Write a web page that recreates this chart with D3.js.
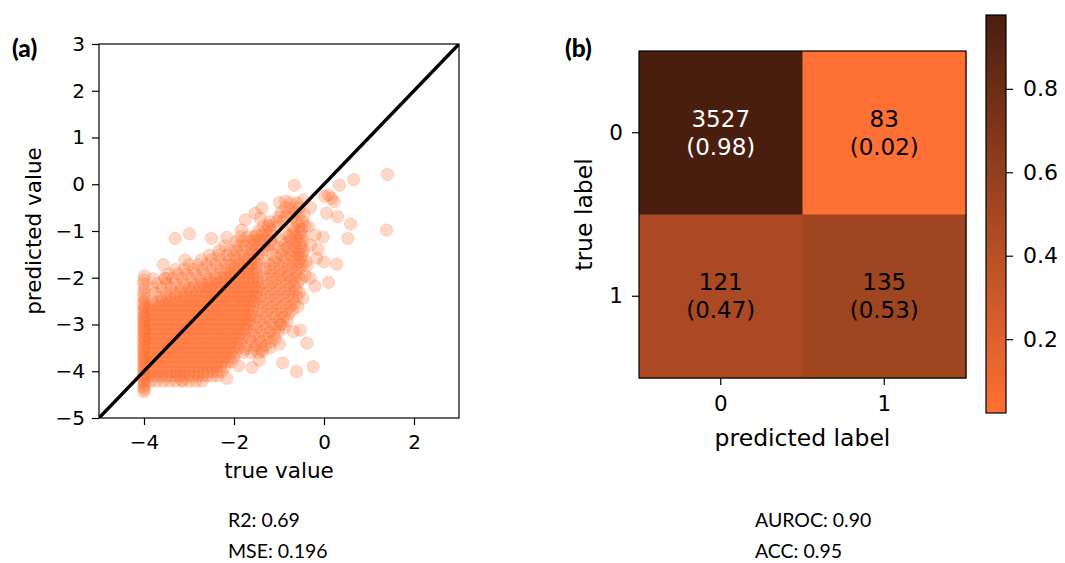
<!DOCTYPE html>
<html><head><meta charset="utf-8">
<script src="https://cdn.jsdelivr.net/npm/d3@7"></script>
<style>
body{margin:0;background:#fff}
svg{display:block}
</style>
</head><body>
<svg id="c" width="1065" height="563"></svg>
<script>
// ---------------- DATA ----------------
// (a) scatter: true value vs predicted value
const columnPts = [
 [-4.0,-4.44],[-3.99,-4.39],[-4.01,-4.35],[-4.0,-4.3],[-3.99,-4.26],[-4.01,-4.21],[-4.0,-4.17],[-3.99,-4.12],
 [-4.01,-4.08],[-4.0,-4.03],[-3.99,-3.99],[-4.01,-3.94],[-4.0,-3.9],[-3.99,-3.85],[-4.01,-3.81],[-4.0,-3.76],
 [-3.99,-3.72],[-4.01,-3.67],[-4.0,-3.63],[-3.99,-3.58],[-4.01,-3.54],[-4.0,-3.49],[-3.99,-3.45],[-4.01,-3.4],
 [-4.0,-3.36],[-3.99,-3.31],[-4.01,-3.27],[-4.0,-3.22],[-3.99,-3.18],[-4.01,-3.13],[-4.0,-3.09],[-3.99,-3.04],
 [-4.01,-3.0],[-4.0,-2.95],[-3.99,-2.91],[-4.01,-2.86],[-4.0,-2.82],[-3.99,-2.77],[-4.01,-2.72],[-4.0,-2.67],
 [-3.99,-2.62],[-4.01,-2.57],[-4.0,-2.51],[-3.99,-2.45],[-4.01,-2.38],[-4.0,-2.3],[-3.99,-2.22],[-4.01,-2.13],
 [-4.0,-2.05],[-3.99,-1.96]
];
const coreRows = [
 [-4.21,[-3.86,-3.72,-3.57,-3.43,-3.29,-3.14,-3.0,-2.85,-2.71]],
 [-4.1,[-3.9,-3.8,-3.7,-3.61,-3.5,-3.4,-3.3,-3.21,-3.1,-3.0,-2.9,-2.8,-2.7,-2.6,-2.48,-2.36]],
 [-4.01,[-3.88,-3.78,-3.68,-3.58,-3.48,-3.38,-3.28,-3.18,-3.08,-2.98,-2.88,-2.78,-2.68,-2.58,-2.48,-2.38,-2.28]],
 [-3.9,[-3.9,-3.8,-3.7,-3.6,-3.5,-3.4,-3.3,-3.2,-3.1,-3.0,-2.9,-2.8,-2.7,-2.6,-2.5,-2.4,-2.3,-2.2]],
 [-3.8,[-3.86,-3.76,-3.66,-3.56,-3.46,-3.36,-3.26,-3.16,-3.06,-2.96,-2.86,-2.76,-2.66,-2.56,-2.46,-2.36,-2.26,-2.16,-2.06]],
 [-3.7,[-3.9,-3.8,-3.7,-3.6,-3.5,-3.4,-3.3,-3.2,-3.1,-3.0,-2.9,-2.8,-2.7,-2.6,-2.5,-2.4,-2.3,-2.2,-2.1,-2.01]],
 [-3.6,[-3.86,-3.76,-3.66,-3.56,-3.46,-3.36,-3.26,-3.16,-3.06,-2.96,-2.86,-2.76,-2.66,-2.56,-2.46,-2.36,-2.26,-2.16,-2.06,-1.96]],
 [-3.5,[-3.9,-3.8,-3.7,-3.6,-3.5,-3.4,-3.3,-3.2,-3.1,-3.0,-2.9,-2.8,-2.7,-2.6,-2.5,-2.4,-2.3,-2.2,-2.1,-2.0,-1.9]],
 [-3.4,[-3.86,-3.76,-3.66,-3.56,-3.46,-3.36,-3.26,-3.16,-3.06,-2.96,-2.86,-2.76,-2.66,-2.56,-2.46,-2.36,-2.26,-2.16,-2.06,-1.96,-1.86]],
 [-3.3,[-3.9,-3.8,-3.7,-3.6,-3.5,-3.4,-3.3,-3.2,-3.1,-3.0,-2.9,-2.8,-2.7,-2.6,-2.5,-2.4,-2.3,-2.2,-2.1,-2.0,-1.9,-1.81]],
 [-3.2,[-3.86,-3.76,-3.66,-3.56,-3.46,-3.36,-3.26,-3.16,-3.06,-2.96,-2.86,-2.76,-2.66,-2.56,-2.46,-2.36,-2.26,-2.16,-2.06,-1.96,-1.86,-1.77]],
 [-3.1,[-3.9,-3.8,-3.7,-3.6,-3.5,-3.4,-3.3,-3.2,-3.1,-3.0,-2.9,-2.8,-2.7,-2.6,-2.5,-2.4,-2.3,-2.2,-2.1,-2.0,-1.9,-1.8,-1.73]],
 [-3.0,[-3.86,-3.76,-3.66,-3.56,-3.46,-3.36,-3.26,-3.16,-3.06,-2.96,-2.86,-2.76,-2.66,-2.56,-2.46,-2.36,-2.26,-2.16,-2.06,-1.96,-1.86,-1.76,-1.69]],
 [-2.9,[-3.9,-3.8,-3.7,-3.6,-3.5,-3.4,-3.3,-3.2,-3.1,-3.0,-2.9,-2.8,-2.7,-2.6,-2.5,-2.4,-2.3,-2.2,-2.1,-2.0,-1.9,-1.8,-1.72,-1.65]],
 [-2.8,[-3.86,-3.76,-3.66,-3.56,-3.46,-3.36,-3.26,-3.16,-3.06,-2.96,-2.86,-2.76,-2.66,-2.56,-2.46,-2.36,-2.26,-2.16,-2.06,-1.96,-1.86,-1.76,-1.66,-1.6]],
 [-2.7,[-3.9,-3.8,-3.7,-3.6,-3.5,-3.4,-3.3,-3.2,-3.1,-3.0,-2.9,-2.8,-2.7,-2.6,-2.5,-2.4,-2.3,-2.2,-2.1,-2.0,-1.9,-1.8,-1.7,-1.6]],
 [-2.6,[-3.86,-3.76,-3.66,-3.56,-3.46,-3.36,-3.26,-3.16,-3.06,-2.96,-2.86,-2.76,-2.66,-2.56,-2.46,-2.36,-2.26,-2.16,-2.06,-1.96,-1.86,-1.76,-1.66,-1.56]],
 [-2.5,[-3.82,-3.7,-3.6,-3.5,-3.4,-3.3,-3.2,-3.1,-3.0,-2.9,-2.8,-2.7,-2.6,-2.5,-2.4,-2.3,-2.2,-2.1,-2.0,-1.9,-1.8,-1.7,-1.62,-1.55]],
 [-2.4,[-3.62,-3.45,-3.3,-3.18,-3.06,-2.96,-2.86,-2.76,-2.66,-2.56,-2.46,-2.36,-2.26,-2.16,-2.06,-1.96,-1.86,-1.76,-1.66,-1.58,-1.5]],
 [-2.3,[-3.2,-3.06,-2.94,-2.82,-2.7,-2.6,-2.5,-2.4,-2.3,-2.2,-2.1,-2.0,-1.9,-1.8,-1.7,-1.6,-1.5]],
 [-2.2,[-2.9,-2.76,-2.64,-2.54,-2.44,-2.34,-2.24,-2.14,-2.04,-1.94,-1.84,-1.74,-1.64,-1.54,-1.45]],
 [-2.1,[-2.6,-2.48,-2.38,-2.28,-2.18,-2.08,-1.98,-1.88,-1.78,-1.68,-1.58,-1.48]],
 [-2.0,[-2.4,-2.28,-2.18,-2.08,-1.98,-1.88,-1.78,-1.68,-1.58,-1.48]],
 [-1.9,[-2.2,-2.08,-1.98,-1.88,-1.78,-1.68,-1.58,-1.5]],
 [-1.8,[-2.0,-1.9,-1.8,-1.7,-1.6,-1.5]],
 [-1.7,[-1.9,-1.8,-1.7,-1.6,-1.5]],
 [-1.6,[-1.76,-1.66,-1.56,-1.46]],
 [-1.5,[-1.66,-1.56,-1.46]]
];
const upperRows = [
 [-2.32,[-3.75,-3.5,-3.32]],
 [-2.22,[-3.8,-3.6,-3.4,-3.18,-3.0]],
 [-2.12,[-3.7,-3.5,-3.3,-3.1,-2.88,-2.7]],
 [-2.02,[-3.8,-3.53,-3.35,-3.15,-2.95,-2.75,-2.55]],
 [-1.92,[-3.45,-3.25,-3.05,-2.85,-2.65,-2.42]],
 [-1.82,[-3.3,-3.1,-2.9,-2.7,-2.5,-2.3,-2.15]],
 [-1.72,[-3.57,-3.0,-2.8,-2.6,-2.4,-2.2,-2.05]],
 [-1.62,[-3.09,-2.72,-2.5,-2.3,-2.1,-1.95]],
 [-1.52,[-2.55,-2.35,-2.15,-2.0,-1.85]],
 [-1.42,[-2.33,-2.09,-1.95,-1.8]],
 [-1.32,[-2.2,-1.9,-1.75]],
 [-1.22,[-1.95,-1.8,-1.65]],
 [-1.12,[-1.85,-1.7,-1.55]]
];
const bandRows = [
 [-1.4,[-1.62,-1.5,-1.38,-1.26]],
 [-1.3,[-1.6,-1.48,-1.36,-1.24,-1.12]],
 [-1.2,[-1.55,-1.43,-1.31,-1.19]],
 [-1.1,[-1.5,-1.38,-1.26,-1.14]],
 [-1.0,[-1.45,-1.3,-1.18]],
 [-0.9,[-1.35,-1.22,-1.05]],
 [-0.8,[-1.2,-1.05,-0.92]],
 [-0.7,[-1.0,-0.85,-0.7]],
 [-0.6,[-0.95,-0.8,-0.65]],
 [-0.5,[-0.85,-0.7,-0.55]],
 [-0.4,[-0.75,-0.6]]
];
const rightRows = [
 [-3.6,[-1.8,-1.62,-1.45]],
 [-3.45,[-1.7,-1.5,-1.3]],
 [-3.3,[-1.65,-1.45,-1.25,-1.08]],
 [-3.15,[-1.6,-1.4,-1.2,-1.02]],
 [-3.0,[-1.55,-1.35,-1.15,-0.96]],
 [-2.85,[-1.5,-1.3,-1.1,-0.9]],
 [-2.7,[-1.45,-1.25,-1.05,-0.85,-0.7]],
 [-2.55,[-1.45,-1.25,-1.05,-0.85,-0.65]],
 [-2.4,[-1.4,-1.2,-1.0,-0.8,-0.6]],
 [-2.25,[-1.38,-1.18,-0.98,-0.78,-0.62]],
 [-2.1,[-1.35,-1.15,-0.95,-0.75,-0.58]],
 [-1.95,[-1.35,-1.15,-0.95,-0.78,-0.6,-0.42]],
 [-1.8,[-1.3,-1.12,-0.92,-0.72,-0.55]],
 [-1.65,[-1.3,-1.1,-0.9,-0.7,-0.56,-0.4]],
 [-1.5,[-1.15,-0.95,-0.75,-0.58,-0.48]],
 [-1.35,[-1.0,-0.82,-0.65,-0.5]],
 [-1.2,[-0.95,-0.75,-0.6,-0.46]],
 [-1.05,[-0.85,-0.68,-0.52]],
 [-0.9,[-0.7,-0.55,-0.42]]
];
const rightRows2 = [
 [-3.52,[-1.75,-1.55,-1.38]],
 [-3.37,[-1.6,-1.4,-1.18]],
 [-3.22,[-1.55,-1.32,-1.12]],
 [-3.07,[-1.5,-1.28,-1.08,-0.88]],
 [-2.92,[-1.42,-1.2,-1.0,-0.82]],
 [-2.77,[-1.38,-1.15,-0.95,-0.78]],
 [-2.62,[-1.35,-1.15,-0.95,-0.75,-0.58]],
 [-2.47,[-1.32,-1.1,-0.9,-0.7]],
 [-2.32,[-1.28,-1.08,-0.88,-0.7,-0.55]],
 [-2.17,[-1.25,-1.05,-0.85,-0.66]],
 [-2.02,[-1.25,-1.05,-0.85,-0.68,-0.5]],
 [-1.87,[-1.2,-1.0,-0.82,-0.62]],
 [-1.72,[-1.2,-1.0,-0.8,-0.62,-0.48]],
 [-1.57,[-1.05,-0.85,-0.66,-0.52]],
 [-1.42,[-0.9,-0.72,-0.56,-0.45]],
 [-1.27,[-0.85,-0.68,-0.53]],
 [-1.12,[-0.78,-0.62,-0.5]],
 [-0.97,[-0.65,-0.5]],
 [-0.8,[-0.6,-0.48]],
 [-0.65,[-0.55,-0.44]]
];
const outlierPts = [
 [1.41,0.21],[1.39,-0.98],[0.66,0.1],[0.34,-0.02],[-0.66,-0.02],[0.1,-0.23],[0.02,-0.26],[0.17,-0.3],
 [0.23,-0.37],[0.06,-0.62],[0.3,-0.69],[0.59,-0.85],[0.53,-1.16],[-0.2,-1.09],[-0.02,-1.13],[-0.13,-1.39],
 [-0.16,-1.58],[0.0,-1.66],[0.28,-1.71],[0.1,-2.1],[-0.2,-2.18],[-0.31,-2.01],[-0.47,-2.44],[-0.53,-3.12],
 [-0.38,-3.4],[-0.24,-3.9],[-0.61,-4.01],[-0.68,-3.15],[-0.96,-3.0],[-0.99,-3.42],[-0.92,-3.82],[-1.2,-3.5],
 [-1.36,-3.58],[-1.44,-3.76],[-1.6,-3.92],[-1.9,-3.88],[-2.16,-4.15],[-3.16,-4.19],[-0.99,-0.39],[-0.85,-0.36],
 [-0.46,-0.34],[-1.38,-0.51],[-1.53,-0.62],[-1.75,-0.76],[-1.42,-0.73],[-1.24,-0.87],[-1.83,-0.98],[-3.31,-1.16],
 [-2.99,-1.06],[-2.5,-1.16],[-2.16,-1.14],[-3.53,-2.01],[-0.3,-0.5],[-0.35,-0.9],[-0.3,-1.3],[-0.38,-1.75]
];
const scatterTicksX = [-4,-2,0,2];
const scatterTicksY = [-5,-4,-3,-2,-1,0,1,2,3];
const identityLine = [-5,3];
const statsA = ["R2: 0.69","MSE: 0.196"];

// (b) confusion matrix
const classLabels = ["0","1"];
const counts = [[3527,83],[121,135]];
const normLabels = [["0.98","0.02"],["0.47","0.53"]];
const colorbarTicks = [0.2,0.4,0.6,0.8];
const statsB = ["AUROC: 0.90","ACC: 0.95"];

// ---------------- DRAW ----------------
const svg = d3.select("#c");
const ORANGE = "#ff7034";
const DV = "'DejaVu Sans', sans-serif";
const CAL = "Lato, 'Open Sans', sans-serif";

// ===== panel (a) =====
const ax = {l:99, r:459, t:44, b:418};
const xS = d3.scaleLinear().domain([-5,3]).range([ax.l, ax.r]);
const yS = d3.scaleLinear().domain([-5,3]).range([ax.b, ax.t]);

const rowsToPts = rows => rows.flatMap(([y,xs]) => xs.map(x => [x,y]));
const allPts = [].concat(columnPts, rowsToPts(coreRows), rowsToPts(upperRows),
  rowsToPts(bandRows), rowsToPts(rightRows), rowsToPts(rightRows2), outlierPts);

svg.append("clipPath").attr("id","clipA").append("rect")
  .attr("x",ax.l).attr("y",ax.t).attr("width",ax.r-ax.l).attr("height",ax.b-ax.t);

const gA = svg.append("g");
gA.append("g").attr("clip-path","url(#clipA)")
  .selectAll("circle").data(allPts).join("circle")
  .attr("cx",d=>xS(d[0])).attr("cy",d=>yS(d[1])).attr("r",6.2)
  .attr("fill",ORANGE).attr("fill-opacity",0.28)
  .attr("stroke",ORANGE).attr("stroke-opacity",0.22).attr("stroke-width",1);

gA.append("line").attr("clip-path","url(#clipA)")
  .attr("x1",xS(identityLine[0])).attr("y1",yS(identityLine[0]))
  .attr("x2",xS(identityLine[1])).attr("y2",yS(identityLine[1]))
  .attr("stroke","#000").attr("stroke-width",3.4);

gA.append("rect").attr("x",ax.l).attr("y",ax.t).attr("width",ax.r-ax.l).attr("height",ax.b-ax.t)
  .attr("fill","none").attr("stroke","#000").attr("stroke-width",1.2);

const fmt = d3.format("");
const xAxA = gA.append("g").attr("transform",`translate(0,${ax.b})`)
  .call(d3.axisBottom(xS).tickValues(scatterTicksX).tickSize(7).tickPadding(10).tickFormat(fmt));
const yAxA = gA.append("g").attr("transform",`translate(${ax.l},0)`)
  .call(d3.axisLeft(yS).tickValues(scatterTicksY).tickSize(7).tickPadding(7).tickFormat(fmt));
[xAxA,yAxA].forEach(g=>{
  g.select(".domain").remove();
  g.selectAll(".tick line").attr("stroke","#000").attr("stroke-width",1.2);
  g.selectAll(".tick text").style("font-size","20px").style("font-family",DV).style("fill","#000");
});

gA.append("text").attr("x",(ax.l+ax.r)/2).attr("y",478).attr("text-anchor","middle")
  .style("font-family",DV).style("font-size","21.5px").text("true value");
gA.append("text").attr("transform",`translate(41,${(ax.t+ax.b)/2}) rotate(-90)`)
  .attr("text-anchor","middle").style("font-family",DV).style("font-size","21.5px").text("predicted value");

svg.append("text").attr("x",12).attr("y",57).style("font-family",CAL)
  .style("font-weight",900).style("font-size","24.5px").text("(a)");

statsA.forEach((s,i)=>svg.append("text").attr("x",228).attr("y",527+i*31)
  .style("font-family",CAL).style("font-size","19.5px").text(s));

// ===== panel (b) =====
const hm = {l:639, r:966, t:51, b:378};
const xB = d3.scaleBand().domain(classLabels).range([hm.l, hm.r]);
const yB = d3.scaleBand().domain(classLabels).range([hm.t, hm.b]);
const rowSums = counts.map(r=>d3.sum(r));
const cells = [];
counts.forEach((row,i)=>row.forEach((c,j)=>cells.push({i,j,c,v:c/rowSums[i],lab:normLabels[i][j]})));
const vExt = d3.extent(cells, d=>d.v);
const cInterp = d3.interpolateRgb("#ff7034","#4a1e0f");
const cScale = d3.scaleSequential(cInterp).domain(vExt);

const gB = svg.append("g");
gB.selectAll("rect.cell").data(cells).join("rect").attr("class","cell")
  .attr("x",d=>xB(classLabels[d.j])).attr("y",d=>yB(classLabels[d.i]))
  .attr("width",xB.bandwidth()+0.5).attr("height",yB.bandwidth()+0.5)
  .attr("fill",d=>cScale(d.v));

const ann = gB.selectAll("g.ann").data(cells).join("g").attr("class","ann")
  .attr("transform",d=>`translate(${xB(classLabels[d.j])+xB.bandwidth()/2},${yB(classLabels[d.i])+yB.bandwidth()/2})`);
ann.append("text").attr("text-anchor","middle").attr("y",-6)
  .style("font-family",DV).style("font-size","23px")
  .style("fill",d=>d.v>0.7?"#fff":"#000").text(d=>d.c);
ann.append("text").attr("text-anchor","middle").attr("y",22)
  .style("font-family",DV).style("font-size","23px")
  .style("fill",d=>d.v>0.7?"#fff":"#000").text(d=>`(${d.lab})`);

gB.append("rect").attr("x",hm.l).attr("y",hm.t).attr("width",hm.r-hm.l).attr("height",hm.b-hm.t)
  .attr("fill","none").attr("stroke","#000").attr("stroke-width",1.2);

const xAxB = gB.append("g").attr("transform",`translate(0,${hm.b})`)
  .call(d3.axisBottom(xB).tickSize(7).tickPadding(11));
const yAxB = gB.append("g").attr("transform",`translate(${hm.l},0)`)
  .call(d3.axisLeft(yB).tickSize(7).tickPadding(9));
[xAxB,yAxB].forEach(g=>{
  g.select(".domain").remove();
  g.selectAll(".tick line").attr("stroke","#000").attr("stroke-width",1.2);
  g.selectAll(".tick text").style("font-size","21.5px").style("font-family",DV).style("fill","#000");
});
gB.append("text").attr("x",(hm.l+hm.r)/2).attr("y",446).attr("text-anchor","middle")
  .style("font-family",DV).style("font-size","23.5px").text("predicted label");
gB.append("text").attr("transform",`translate(592,${(hm.t+hm.b)/2}) rotate(-90)`)
  .attr("text-anchor","middle").style("font-family",DV).style("font-size","23.5px").text("true label");

svg.append("text").attr("x",565).attr("y",57).style("font-family",CAL)
  .style("font-weight",900).style("font-size","24.5px").text("(b)");

// colorbar
const cb = {l:986, r:1006, t:15, b:413};
const cbS = d3.scaleLinear().domain(vExt).range([cb.b, cb.t]);
const grad = svg.append("defs").append("linearGradient").attr("id","cbGrad")
  .attr("x1",0).attr("y1",1).attr("x2",0).attr("y2",0);
[0,0.25,0.5,0.75,1].forEach(t=>grad.append("stop").attr("offset",t)
  .attr("stop-color",cInterp(t)));
svg.append("rect").attr("x",cb.l).attr("y",cb.t).attr("width",cb.r-cb.l).attr("height",cb.b-cb.t)
  .attr("fill","url(#cbGrad)").attr("stroke","#000").attr("stroke-width",1.2);
const cbAx = svg.append("g").attr("transform",`translate(${cb.r},0)`)
  .call(d3.axisRight(cbS).tickValues(colorbarTicks).tickSize(7).tickPadding(10).tickFormat(d3.format(".1f")));
cbAx.select(".domain").remove();
cbAx.selectAll(".tick line").attr("stroke","#000").attr("stroke-width",1.2);
cbAx.selectAll(".tick text").style("font-size","22px").style("font-family",DV).style("fill","#000");

statsB.forEach((s,i)=>svg.append("text").attr("x",755).attr("y",527+i*31)
  .style("font-family",CAL).style("font-size","19.5px").text(s));
</script>
</body></html>
